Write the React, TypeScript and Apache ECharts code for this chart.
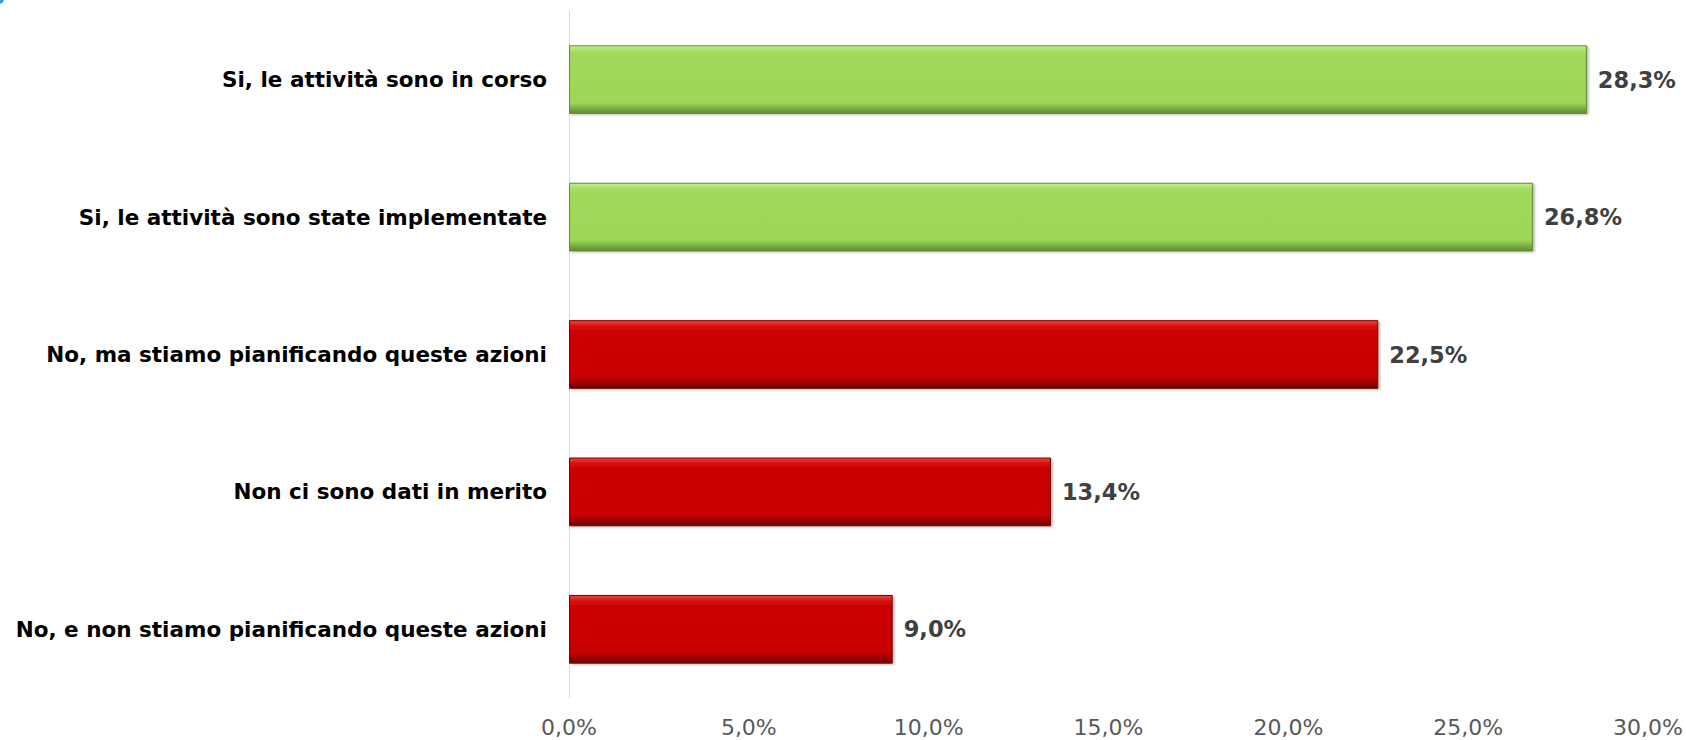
import React, { useEffect, useRef } from "react";
import * as echarts from "echarts";

const categories = [
  "Si, le attività sono in corso",
  "Si, le attività sono state implementate",
  "No, ma stiamo pianificando queste azioni",
  "Non ci sono dati in merito",
  "No, e non stiamo pianificando queste azioni",
];
const values = [28.3, 26.8, 22.5, 13.4, 9.0];
const groups = ["si", "si", "no", "no", "no"];
const axisTicks = [0, 5, 10, 15, 20, 25, 30];

const fmt = (v: number) => v.toFixed(1).replace(".", ",") + "%";

const palette: Record<string, { stops: string[]; border: string }> = {
  si: {
    stops: ["#C4EE94", "#A6DE64", "#9FDA5A", "#9CD758", "#7DB045", "#5E8A30"],
    border: "#5F8C33",
  },
  no: {
    stops: ["#F04646", "#D80F0F", "#CC0606", "#C80505", "#9A0303", "#6E0000"],
    border: "#7A0000",
  },
};

function barStyle(g: string) {
  const p = palette[g];
  return {
    color: new echarts.graphic.LinearGradient(0, 0, 0, 1, [
      { offset: 0, color: p.stops[0] },
      { offset: 0.08, color: p.stops[1] },
      { offset: 0.14, color: p.stops[2] },
      { offset: 0.84, color: p.stops[3] },
      { offset: 0.92, color: p.stops[4] },
      { offset: 1, color: p.stops[5] },
    ]),
    borderColor: p.border,
    borderWidth: 1,
    shadowColor: "rgba(0,0,0,0.25)",
    shadowOffsetX: 2,
    shadowOffsetY: 1,
    shadowBlur: 2,
  };
}

export default function App() {
  const ref = useRef<HTMLDivElement>(null);
  useEffect(() => {
    if (!ref.current) return;
    const chart = echarts.init(ref.current, null, { renderer: "svg" });
    chart.setOption({
      animation: false,
      backgroundColor: "#ffffff",
      grid: { left: 569, right: 38, top: 11, bottom: 42, containLabel: false },
      xAxis: {
        type: "value",
        min: axisTicks[0],
        max: axisTicks[axisTicks.length - 1],
        interval: axisTicks[1] - axisTicks[0],
        axisLine: { show: false },
        axisTick: { show: false },
        splitLine: { show: false },
        axisLabel: {
          formatter: (v: number) => fmt(v),
          color: "#595959",
          fontFamily: "DejaVu Sans",
          fontSize: 22,
          margin: 18,
        },
      },
      yAxis: {
        type: "category",
        data: categories,
        inverse: true,
        axisLine: { show: true, lineStyle: { color: "#D9D9D9", width: 1 } },
        axisTick: { show: false },
        splitLine: { show: false },
        axisLabel: {
          color: "#000000",
          fontFamily: "DejaVu Sans",
          fontWeight: "bold",
          fontSize: 21.5,
          margin: 22,
        },
      },
      series: [
        {
          type: "bar",
          barCategoryGap: "50%",
          data: values.map((v, i) => ({ value: v, itemStyle: barStyle(groups[i]) })),
          label: {
            show: true,
            position: "right",
            distance: 11,
            formatter: (p: any) => fmt(p.value),
            color: "#404040",
            fontFamily: "DejaVu Sans",
            fontWeight: "bold",
            fontSize: 22.5,
          },
        },
      ],
      graphic: [
        {
          type: "circle",
          shape: { cx: -1, cy: -1, r: 5 },
          style: { fill: "#2E9BF0" },
        },
      ],
    });
    return () => chart.dispose();
  }, []);
  return (
    <div
      ref={ref}
      style={{ position: "fixed", left: 0, top: 0, width: 1686, height: 740 }}
    />
  );
}
